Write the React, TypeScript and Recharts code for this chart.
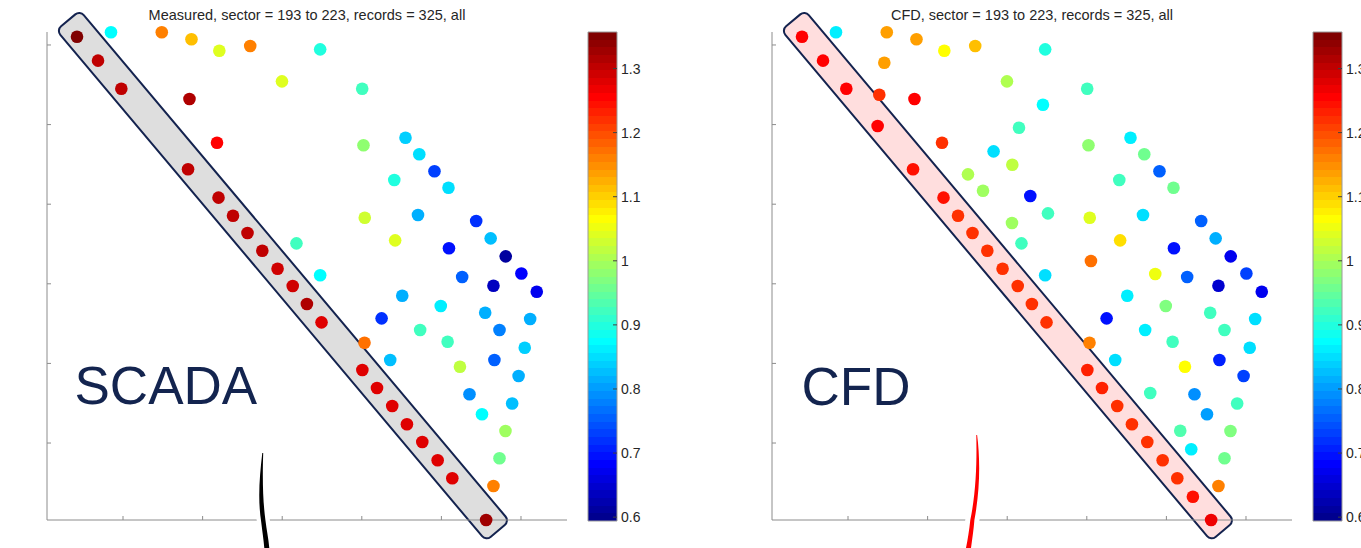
import React from 'react';
import { Bar, BarChart, ReferenceArea, Scatter, ScatterChart, XAxis, YAxis } from 'recharts';

// turbine positions in plot units; the first 22 form the diagonal row
const turbineX = [
  0.422, 0.686, 0.979, 1.372, 1.817, 2.2, 2.382, 2.564, 2.75, 2.942, 3.132,
  3.31, 3.494, 4.007, 4.191, 4.382, 4.567, 4.76, 4.953, 5.137, 5.333, 5.562,
  0.849, 1.487, 1.86, 2.21, 2.598, 3.477, 1.456, 2.997, 1.393, 1.835, 3.449,
  4.005, 3.148, 2.181, 4.021, 4.549, 2.829, 4.722, 3.064, 2.507, 4.913, 4.408,
  5.089, 2.696, 3.29, 3.512, 4.037, 4.706, 5.437, 3.06, 3.179, 4.419, 5.619,
  5.095, 5.808, 4.052, 6.005, 3.477, 4.86, 5.261, 5.654, 6.198, 4.508, 4.992,
  4.249, 5.55, 6.115, 4.733, 5.078, 5.73, 6.047, 4.034, 4.357, 5.233, 5.666,
  5.97, 4.797, 5.353, 5.889, 5.51, 5.174, 5.805, 5.312, 5.73, 5.654,
];

const turbineY = [
  6.104, 5.803, 5.451, 4.982, 4.438, 4.082, 3.854, 3.638, 3.416, 3.19, 2.972,
  2.746, 2.516, 1.917, 1.691, 1.465, 1.235, 1.013, 0.784, 0.557, 0.325, 0.033,
  6.159, 6.16, 6.071, 5.928, 5.987, 5.945, 5.777, 5.543, 5.375, 5.321, 5.25,
  5.451, 4.961, 4.772, 4.74, 4.835, 4.664, 4.627, 4.496, 4.375, 4.413, 4.304,
  4.207, 4.169, 4.103, 3.885, 3.83, 3.864, 3.789, 3.763, 3.508, 3.546, 3.571,
  3.446, 3.345, 3.286, 3.129, 3.107, 3.123, 3.085, 2.976, 2.901, 2.85, 2.721,
  2.566, 2.637, 2.558, 2.42, 2.273, 2.42, 2.197, 2.26, 2.043, 1.958, 2.043,
  1.842, 1.628, 1.612, 1.496, 1.361, 1.155, 1.151, 0.921, 0.808, 0.46,
];

// SCADA ratio per turbine (null = no records)
const measured = [
  1.35, 1.3, 1.3, null, 1.3, 1.3, 1.3, 1.3, 1.3, 1.29, 1.29,
  1.32, 1.28, 1.28, 1.28, 1.28, 1.28, 1.28, 1.28, 1.28, null, 1.33,
  0.87, 1.16, 1.11, 1.045, 1.16, 0.9, null, 1.04, null, 1.31, null,
  0.92, null, 1.25, 0.98, 0.84, null, 0.855, null, null, 0.73, 0.9,
  0.85, null, null, null, 1.03, 0.82, 0.72, null, 0.92, 1.045, 0.83,
  0.69, 0.61, null, 0.68, 0.88, null, 0.76, 0.63, 0.67, 0.82, 0.86,
  0.725, 0.81, 0.82, 0.92, 0.92, 0.78, 0.84, 1.17, 0.83, 1.02, 0.75,
  0.81, null, 0.79, 0.83, 0.87, null, 0.99, null, 0.955, 1.16,
];

// CFD ratio per turbine
const cfd = [
  1.25, 1.25, 1.25, 1.25, 1.24, 1.24, 1.22, 1.22, 1.22, 1.22, 1.22,
  1.22, 1.22, 1.23, 1.23, 1.22, 1.22, 1.22, 1.22, 1.22, 1.24, 1.27,
  0.86, 1.14, 1.135, 1.07, 1.11, 0.9, 1.14, 1.01, 1.215, 1.25, 0.87,
  0.92, 0.92, 1.215, 0.98, 0.86, 0.855, 0.955, 1.02, 1.01, 0.76, 0.92,
  0.955, 0.99, 0.7, 0.92, 1.045, 0.85, 0.75, 0.99, 0.92, 1.09, 0.82,
  0.7, 0.67, 1.17, 0.73, 0.85, 1.05, 0.76, 0.645, 0.67, 0.86, 0.975,
  0.69, 0.92, 0.855, 0.86, 0.92, 0.92, 0.85, 1.16, 0.855, 1.07, 0.71,
  0.73, 0.92, 0.79, 0.92, 0.8, 0.93, 0.97, 0.86, 0.96, 1.16,
];

const axisTicks = [1, 2, 3, 4, 5, 6];
const colorTicks = [0.6, 0.7, 0.8, 0.9, 1, 1.1, 1.2, 1.3];
const cLim: [number, number] = [0.594, 1.357];
const xDomain: [number, number] = [0.045, 6.578];
const yDomain: [number, number] = [0.033, 6.163];

// centre line of the highlighted strip along the diagonal row
const stripX = [0.303, 5.715];
const stripY = [6.319, -0.114];

const titleMeasured = 'Measured, sector = 193 to 223, records = 325, all';
const titleCfd = 'CFD, sector = 193 to 223, records = 325, all';

const FONT = '"Liberation Sans", Arial, sans-serif';

// MATLAB jet(64)
const jetU = (i: number) => {
  if (i < 1 || i > 47) return 0;
  if (i <= 16) return i / 16;
  if (i <= 31) return 1;
  return (48 - i) / 16;
};
const jet = (k: number) => {
  const c = (v: number) => Math.round(v * 255);
  return `rgb(${c(jetU(k - 24))},${c(jetU(k - 8))},${c(jetU(k + 8))})`;
};
const colorOf = (v: number) => {
  const k = Math.floor(((v - cLim[0]) / (cLim[1] - cLim[0])) * 64) + 1;
  return jet(Math.min(64, Math.max(1, k)));
};

const JetGradient = ({ id }: { id: string }) => {
  const stops: React.ReactNode[] = [];
  for (let k = 1; k <= 64; k++) {
    stops.push(<stop key={`a${k}`} offset={(k - 1) / 64} stopColor={jet(k)} />);
    stops.push(<stop key={`b${k}`} offset={k / 64} stopColor={jet(k)} />);
  }
  return (
    <linearGradient id={id} x1="0" y1="1" x2="0" y2="0">
      {stops}
    </linearGradient>
  );
};

// axes carry tick marks only, no labels
const NoLabel = () => <g />;

const renderDot = (props: any) => {
  const { cx, cy, payload } = props;
  if (cx == null || cy == null) return <g />;
  return <circle cx={cx} cy={cy} r={6.3} fill={colorOf(payload.v)} />;
};

// rounded strip drawn along the diagonal of the reference box
const stripShape = (fill: string, stroke: string) => (props: any) => {
  const { x, y, width, height } = props;
  const cx = x + width / 2;
  const cy = y + height / 2;
  const len = Math.hypot(width, height) - 2;
  const ang = (Math.atan2(height, width) * 180) / Math.PI;
  return (
    <rect
      x={cx - len / 2}
      y={cy - 15.3}
      width={len}
      height={30.6}
      rx={6}
      fill={fill}
      stroke={stroke}
      strokeWidth={2}
      transform={`rotate(${ang} ${cx} ${cy})`}
    />
  );
};

const Panel = ({ left, values, stripFill }: { left: number; values: (number | null)[]; stripFill: string }) => {
  const data = turbineX
    .map((x, i) => ({ x, y: turbineY[i], v: values[i] }))
    .filter((d) => d.v != null);
  return (
    <div style={{ position: 'absolute', left, top: 0 }}>
      <ScatterChart width={580} height={548} margin={{ top: 32, right: 13, bottom: 27, left: 46 }}>
        <XAxis
          type="number"
          dataKey="x"
          domain={xDomain}
          ticks={axisTicks}
          tick={NoLabel}
          tickSize={-4}
          height={1}
          stroke="#8c8c8c"
        />
        <YAxis
          type="number"
          dataKey="y"
          domain={yDomain}
          ticks={axisTicks}
          tick={NoLabel}
          tickSize={-4}
          width={1}
          stroke="#8c8c8c"
        />
        <ReferenceArea
          x1={stripX[0]}
          x2={stripX[1]}
          y1={stripY[0]}
          y2={stripY[1]}
          ifOverflow="visible"
          shape={stripShape(stripFill, 'none')}
        />
        <Scatter data={data} shape={renderDot} isAnimationActive={false} />
        <ReferenceArea
          x1={stripX[0]}
          x2={stripX[1]}
          y1={stripY[0]}
          y2={stripY[1]}
          ifOverflow="visible"
          shape={stripShape('none', '#14234f')}
        />
      </ScatterChart>
    </div>
  );
};

// the colour bar is a single range bar spanning the colour limits
const colorBarData = [{ name: 'c', span: cLim }];

const ColorBar = ({ left, gradientId }: { left: number; gradientId: string }) => (
  <div style={{ position: 'absolute', left, top: 0 }}>
    <BarChart
      width={71}
      height={548}
      data={colorBarData}
      barCategoryGap={0}
      margin={{ top: 32, right: 0, bottom: 27, left: 0 }}
    >
      <XAxis dataKey="name" hide />
      <Bar
        yAxisId="r"
        dataKey="span"
        fill={`url(#${gradientId})`}
        stroke="#9a9a9a"
        strokeWidth={1}
        isAnimationActive={false}
      />
      <YAxis
        yAxisId="l"
        orientation="left"
        type="number"
        domain={cLim}
        ticks={colorTicks}
        tick={NoLabel}
        tickSize={-4}
        width={1}
        axisLine={false}
        stroke="#404040"
      />
      <YAxis
        yAxisId="r"
        orientation="right"
        type="number"
        domain={cLim}
        ticks={colorTicks}
        tickSize={-4}
        tickMargin={8}
        width={41}
        axisLine={false}
        stroke="#404040"
        tick={{ fontSize: 14, fill: '#262626', fontFamily: FONT }}
      />
    </BarChart>
  </div>
);

export default function App() {
  return (
    <div
      style={{
        position: 'absolute',
        left: 0,
        top: 0,
        width: 1361,
        height: 548,
        overflow: 'hidden',
        background: '#fff',
        fontFamily: FONT,
      }}
    >
      <svg width={0} height={0} style={{ position: 'absolute' }}>
        <defs>
          <JetGradient id="jetL" />
          <JetGradient id="jetR" />
        </defs>
      </svg>
      <Panel left={0} values={measured} stripFill="#dedede" />
      <ColorBar left={587} gradientId="jetL" />
      <Panel left={725} values={cfd} stripFill="#ffdede" />
      <ColorBar left={1312} gradientId="jetR" />
      <svg
        width={1361}
        height={548}
        style={{ position: 'absolute', left: 0, top: 0, pointerEvents: 'none' }}
      >
        <g fontFamily={FONT} fill="#262626" fontSize={14.5} textAnchor="middle">
          <text x={307} y={20}>{titleMeasured}</text>
          <text x={1032} y={20}>{titleCfd}</text>
        </g>
        <g fontFamily={FONT} fill="#13244f" fontSize={53}>
          <text x={74.5} y={404}>SCADA</text>
          <text x={801.5} y={405}>CFD</text>
        </g>
        <path d="M262.7,453 C259.6,480 259.5,505 263.3,520 C265,530 266.3,540 266.9,552" stroke="#fff" strokeWidth={13} fill="none" />
        <path
          d="M262.3,453 C259.3,478 257.8,500 261.2,522 C262.4,532 263.6,540 264.3,548 L269.3,548 C268.4,538 266.6,530 265.4,520 C262.8,500 262.4,480 263.2,453 Z"
          fill="#000"
        />
        <path d="M976.7,435 C978.6,460 978.5,490 972.3,520 C970.8,530 969.4,540 968.3,552" stroke="#fff" strokeWidth={14} fill="none" />
        <path
          d="M976.3,435 C976.8,460 976.5,490 970.3,520 C969.3,530 967.6,540 966,548 L971,548 C972.4,538 973.6,530 974.4,520 C980,490 980.4,460 977.1,435 Z"
          fill="#ff0000"
        />
      </svg>
    </div>
  );
}
